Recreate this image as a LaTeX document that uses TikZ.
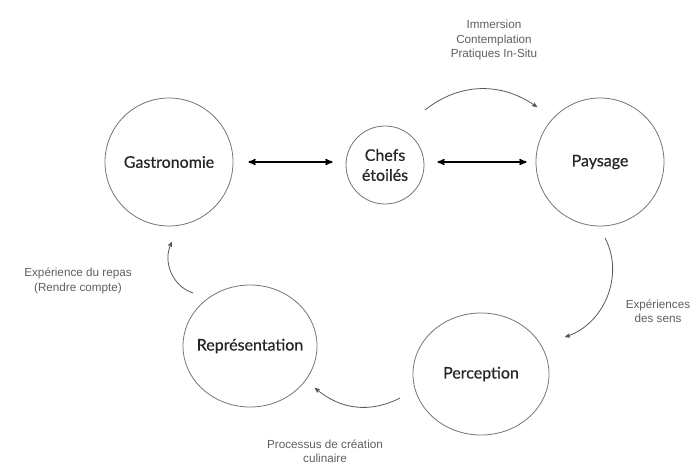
\documentclass[tikz,border=0pt]{standalone}
\usepackage{fontspec}
\setmainfont{Lato}
\newfontfamily\ringfont[FakeBold=0.6]{Lato}
\newfontfamily\helv{Liberation Sans}
\usetikzlibrary{arrows,shapes.geometric}
\definecolor{ringcol}{RGB}{128,112,112}
\definecolor{labcol}{RGB}{95,95,95}

\begin{document}
\begin{tikzpicture}[x=1pt,y=-1pt,>=stealth',semithick,
			state/.style={circle,draw=ringcol,line width=0.8pt,minimum size=128pt,
				font=\ringfont\fontsize{16}{20}\selectfont,text=black!85},
			oval/.style={ellipse,draw=ringcol,line width=0.8pt,minimum width=134pt,
				minimum height=122pt,inner xsep=-6pt,inner ysep=0pt,
				font=\ringfont\fontsize{16}{20}\selectfont,text=black!85},
			note/.style={font=\helv\fontsize{11.7}{14.5}\selectfont,text=labcol,align=center},
			flow/.style={->,draw=black!65,line width=0.8pt},
			link/.style={<->,line width=1.5pt}]
			
			\useasboundingbox (0,0) rectangle (696,465);
			
			\node[state] (G) at (169,162) {Gastronomie};
			\node[state,minimum size=78pt,align=center,inner sep=0pt] (C) at (385,165) {Chefs\\étoilés};
			\node[state] (P) at (600,162) {Paysage};
			\node[oval] (R) at (250,346) {Représentation};
			\node[oval,minimum width=136pt] (E) at (481,374) {Perception};
			
			\node[note] (n1) at (494,40) {Immersion\\Contemplation\\Pratiques In-Situ};
			\node[note] (n2) at (658,311) {Expériences\\des sens};
			\node[note] (n3) at (78,281) {Expérience du repas\\(Rendre compte)};
			\node[note] (n4) at (325,451) {Processus de création\\culinaire};
			
			\coordinate (a1) at (425,110);
			\coordinate (a2) at (537,107);
			\coordinate (b1) at (605,238);
			\coordinate (b2) at (565,337);
			\coordinate (c1) at (400,398);
			\coordinate (c2) at (315,388);
			\coordinate (d1) at (193,293);
			\coordinate (d2) at (172,242);
			
			\draw[link,shorten <=15pt,shorten >=13pt] (G.east) -- (G.east -| C.west);
			\draw[link,shorten <=13pt,shorten >=9pt] (C.east |- P.west) -- (P.west);
			
			\path (a1) edge [flow,bend left=37] (a2)
			(b1) edge [flow,bend left=50] (b2)
			(c1) edge [flow,bend left=34] (c2)
			(d1) edge [flow,bend left=50] (d2);
\end{tikzpicture}
\end{document}
